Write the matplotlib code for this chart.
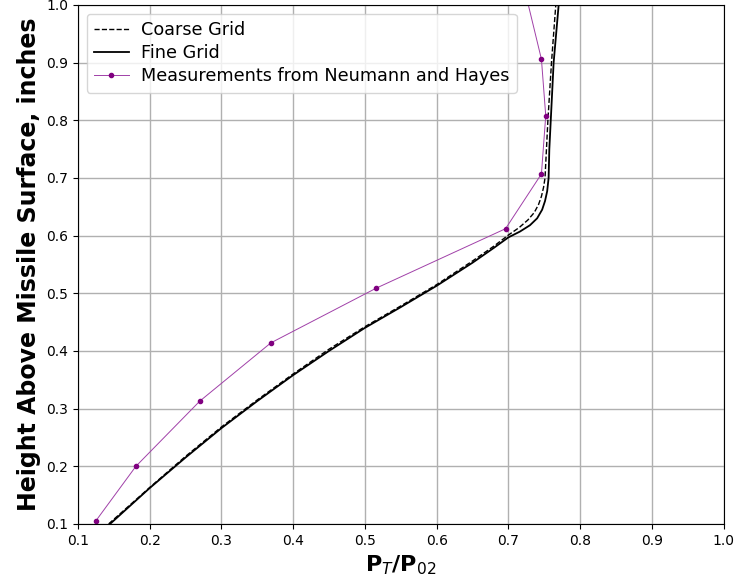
import matplotlib
matplotlib.use("Agg")
import matplotlib.pyplot as plt

# fine grid solution
fine_x = [0.145, 0.2, 0.25, 0.3, 0.35, 0.4, 0.45, 0.5, 0.55, 0.6, 0.65, 0.68, 0.7,
          0.716, 0.730, 0.740, 0.747, 0.751, 0.754, 0.756, 0.757, 0.759, 0.763, 0.770]
fine_y = [0.10, 0.162, 0.215, 0.266, 0.313, 0.358, 0.40, 0.440, 0.476, 0.513, 0.553, 0.579, 0.597,
          0.607, 0.618, 0.630, 0.645, 0.660, 0.677, 0.70, 0.75, 0.80, 0.90, 1.00]

# coarse grid solution
coarse_x = [0.143, 0.2, 0.25, 0.3, 0.35, 0.4, 0.45, 0.5, 0.55, 0.6, 0.65, 0.68, 0.7,
            0.715, 0.727, 0.736, 0.742, 0.746, 0.749, 0.751, 0.753, 0.755, 0.760, 0.766]
coarse_y = [0.10, 0.163, 0.217, 0.268, 0.315, 0.360, 0.403, 0.442, 0.478, 0.515, 0.556, 0.582, 0.601,
            0.614, 0.627, 0.640, 0.654, 0.668, 0.684, 0.70, 0.75, 0.80, 0.90, 1.00]

# measurements (Neumann and Hayes)
meas_x = [0.125, 0.181, 0.270, 0.369, 0.516, 0.696, 0.746, 0.752, 0.746, 0.72]
meas_y = [0.105, 0.200, 0.313, 0.414, 0.509, 0.612, 0.707, 0.808, 0.906, 1.04]

fig = plt.figure(figsize=(7.34, 5.88), dpi=100)
ax = fig.add_axes([0.106, 0.109, 0.88, 0.8825])

ax.plot(coarse_x, coarse_y, "k--", lw=1.0, label="Coarse Grid")
ax.plot(fine_x, fine_y, "k-", lw=1.3, label="Fine Grid")
ax.plot(meas_x, meas_y, color="#a040a8", lw=0.7, marker="o", ms=3,
        mfc="purple", mec="purple", label="Measurements from Neumann and Hayes")

ax.set_xlim(0.1, 1.0)
ax.set_ylim(0.1, 1.0)
ax.set_xticks([0.1, 0.2, 0.3, 0.4, 0.5, 0.6, 0.7, 0.8, 0.9, 1.0])
ax.set_yticks([0.1, 0.2, 0.3, 0.4, 0.5, 0.6, 0.7, 0.8, 0.9, 1.0])
ax.grid(True, color="#b0b0b0", lw=1.0)
ax.set_axisbelow(True)

ax.set_xlabel("P$_T$/P$_{02}$", fontsize=16, fontweight="bold")
ax.set_ylabel("Height Above Missile Surface, inches", fontsize=17, fontweight="bold")
ax.legend(loc="upper left", fontsize=12.7, labelspacing=0.3, handletextpad=0.7)

fig.savefig("out.png", dpi=100)
